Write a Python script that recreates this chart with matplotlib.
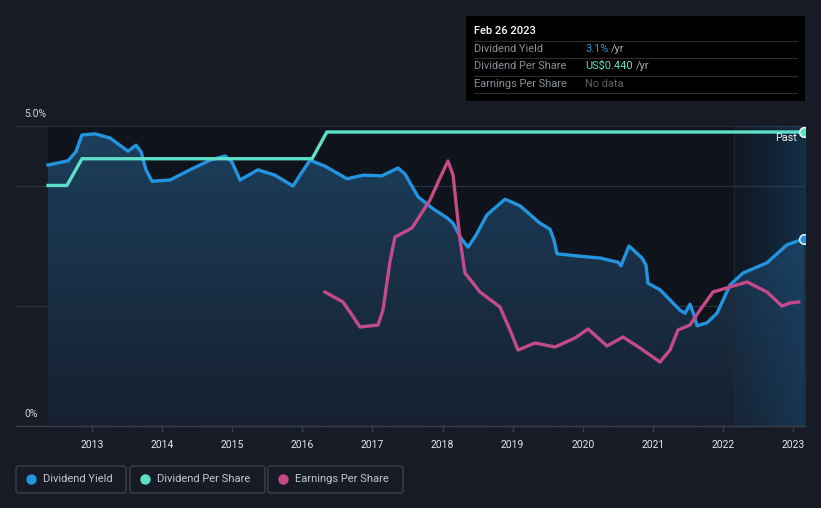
import numpy as np
import matplotlib
matplotlib.use("Agg")
import matplotlib.pyplot as plt
from matplotlib.patches import FancyBboxPatch, Rectangle
from matplotlib.colors import to_rgb

# ---------------- data ----------------
yield_t = [2012.372, 2012.658, 2012.77, 2012.857, 2013.043, 2013.257, 2013.514, 2013.628,
           2013.70, 2013.77, 2013.856, 2014.113, 2014.398, 2014.683, 2014.897, 2014.997,
           2015.111, 2015.368, 2015.611, 2015.867, 2015.967, 2016.11, 2016.324, 2016.638,
           2016.866, 2017.137, 2017.365, 2017.465, 2017.651, 2017.865, 2018.064, 2018.15,
           2018.264, 2018.364, 2018.478, 2018.635, 2018.892, 2019.106, 2019.391, 2019.534,
           2019.59, 2019.633, 2019.961, 2020.247, 2020.503, 2020.546, 2020.66, 2020.846,
           2020.903, 2020.931, 2021.103, 2021.388, 2021.46, 2021.531, 2021.588, 2021.631,
           2021.773, 2021.916, 2022.101, 2022.287, 2022.629, 2022.914, 2023.155]
yield_v = [4.35, 4.42, 4.57, 4.85, 4.87, 4.80, 4.58, 4.68,
           4.57, 4.27, 4.08, 4.10, 4.27, 4.43, 4.50, 4.40,
           4.10, 4.27, 4.18, 4.00, 4.18, 4.43, 4.33, 4.12,
           4.18, 4.17, 4.30, 4.20, 3.82, 3.62, 3.47, 3.38,
           3.13, 2.98, 3.18, 3.52, 3.78, 3.67, 3.38, 3.28,
           3.10, 2.87, 2.83, 2.80, 2.73, 2.67, 3.00, 2.80,
           2.68, 2.38, 2.27, 1.93, 1.88, 2.03, 1.85, 1.67,
           1.72, 1.88, 2.35, 2.55, 2.72, 3.02, 3.12]

dps_t = [2012.372, 2012.643, 2012.857, 2016.14, 2016.35, 2023.155]
dps_v = [0.36, 0.36, 0.40, 0.40, 0.44, 0.44]

eps_t = [2016.324, 2016.58, 2016.71, 2016.823, 2017.08, 2017.151, 2017.25, 2017.322,
         2017.565, 2017.822, 2017.964, 2018.078, 2018.15, 2018.25, 2018.321, 2018.535,
         2018.82, 2018.963, 2019.077, 2019.32, 2019.605, 2019.89, 2020.076, 2020.347,
         2020.575, 2020.817, 2021.103, 2021.245, 2021.359, 2021.531, 2021.673, 2021.859,
         2022.101, 2022.344, 2022.629, 2022.843, 2022.957, 2023.08]
eps_v = [0.67, 0.62, 0.555, 0.495, 0.505, 0.58, 0.82, 0.945,
         0.99, 1.13, 1.24, 1.325, 1.255, 0.93, 0.765, 0.67,
         0.595, 0.48, 0.38, 0.415, 0.395, 0.44, 0.485, 0.40,
         0.445, 0.39, 0.32, 0.38, 0.48, 0.505, 0.58, 0.67,
         0.695, 0.72, 0.67, 0.60, 0.615, 0.62]

years = list(range(2013, 2024))
year_labels = [str(y) for y in years]
forecast_start = 2022.155

# ---------------- style ----------------
BG = "#161b26"
PLOT_BG = "#0f131b"
BLUE = "#2394df"
CYAN = "#5ee0c8"
MAG = "#c44a8a"
GRID = "#2c323d"
AX = "#3a404a"
plt.rcParams['font.family'] = ['Roboto', 'DejaVu Sans']

W, H = 821, 508
fig = plt.figure(figsize=(W / 100, H / 100), dpi=100, facecolor=BG)

def fx(x):
    return x / W

def fy(y):
    return 1 - y / H

ax = fig.add_axes([fx(16), fy(426), fx(805) - fx(16), fy(126) - fy(426)])
ax.set_facecolor(BG)
XMIN, XMAX = 2011.916, 2023.171
YMAX = 5.0

# dark plot background
ax.axvspan(yield_t[0], XMAX, color=PLOT_BG, zorder=0, lw=0)

# gridlines
for g in [5.0, 4.0, 2.0]:
    ax.axhline(g, color=GRID, lw=0.9, zorder=0.5)

# gradient fill under the yield line
poly = ax.fill_between(yield_t, yield_v, 0, color='none', lw=0)
top_c = np.array(to_rgb("#1c3f5e"))
bot_c = np.array(to_rgb("#16202f"))
n = 256
fr = np.linspace(0, 1, n)[:, None]
grad = bot_c[None, :] * (1 - fr) + top_c[None, :] * fr
grad = np.repeat(grad[:, None, :], 2, axis=1)
img = ax.imshow(grad, extent=[yield_t[0], yield_t[-1], 0, YMAX], origin='lower',
                aspect='auto', zorder=1, interpolation='bilinear')
img.set_clip_path(poly.get_paths()[0], ax.transData)

# forecast overlay (horizontal gradient)
fc = np.array(to_rgb("#1a5585"))
m = 128
alpha = np.linspace(0.06, 0.42, m)
ov = np.zeros((2, m, 4))
ov[:, :, :3] = fc
ov[:, :, 3] = alpha[None, :]
ax.imshow(ov, extent=[forecast_start, XMAX, 0, YMAX], origin='lower', aspect='auto',
          zorder=1.5, interpolation='bilinear')
ax.axvline(forecast_start, color="#1e2a38", lw=0.9, zorder=1.6)

ax.plot(yield_t, yield_v, color=BLUE, lw=2.4, zorder=4, solid_joinstyle='round')
ax.plot([yield_t[-1]], [yield_v[-1]], 'o', ms=7, mfc=BLUE, mec='white', mew=1.0, zorder=6)

ax.set_xlim(XMIN, XMAX)
ax.set_ylim(0, YMAX)

# DPS axis
ax2 = ax.twinx()
ax2.set_ylim(0, 0.44 * 300 / 294)
ax2.plot(dps_t, dps_v, color=CYAN, lw=2.4, zorder=5, solid_joinstyle='round')
ax2.plot([dps_t[-1]], [dps_v[-1]], 'o', ms=7, mfc=CYAN, mec='white', mew=1.0, zorder=6)

# EPS axis
ax3 = ax.twinx()
ax3.set_ylim(0, 1.5)
ax3.plot(eps_t, eps_v, color=MAG, lw=2.4, zorder=5, solid_joinstyle='round')

for a in (ax2, ax3):
    a.set_xlim(XMIN, XMAX)
    a.set_yticks([])
    a.patch.set_visible(False)
    for s in a.spines.values():
        s.set_visible(False)

for s in ['top', 'right', 'left']:
    ax.spines[s].set_visible(False)
ax.spines['bottom'].set_color(AX)
ax.spines['bottom'].set_linewidth(1.0)
ax.set_yticks([])
ax.set_xticks(years)
ax.set_xticklabels(year_labels, color="#e6e6e6", fontsize=7.5,
                   fontfamily=['Liberation Sans Narrow', 'Roboto', 'DejaVu Sans'])
ax.tick_params(axis='x', length=4, color=AX, width=1, pad=6)

# y labels
fig.text(fx(24), fy(114), "5.0%", color="#d6d8dc", fontsize=7.5, va='center', ha='left')
fig.text(fx(24), fy(414), "0%", color="#d6d8dc", fontsize=7.5, va='center', ha='left')
fig.text(fx(797), fy(138), "Past", color="#f0f0f0", fontsize=7.8, va='center', ha='right')

# tooltip
fig.patches.append(Rectangle((fx(466), fy(101)), fx(805) - fx(466), fy(16) - fy(101),
                             transform=fig.transFigure, facecolor="#000000", edgecolor='none', zorder=10))
fig.text(fx(474), fy(31), "Feb 26 2023", color="white", fontsize=8, fontweight='medium',
         va='center', ha='left', zorder=11)
for yy in [41, 58, 76, 93]:
    fig.add_artist(plt.Line2D([fx(474), fx(797)], [fy(yy), fy(yy)], transform=fig.transFigure,
                              color="#2e2e2e", lw=0.8, zorder=11))
rows = [("Dividend Yield", "3.1%", BLUE, 49),
        ("Dividend Per Share", "US$0.440", CYAN, 66),
        ("Earnings Per Share", None, None, 84)]
for lab, val, col, yy in rows:
    fig.text(fx(474), fy(yy), lab, color="#8a8f98", fontsize=7.9, va='center', ha='left', zorder=11)
    if val is None:
        fig.text(fx(585), fy(yy), "No data", color="#5c6066", fontsize=7.9, va='center', ha='left', zorder=11)
    else:
        t = fig.text(fx(585), fy(yy), val, color=col, fontsize=7.9, va='center', ha='left', zorder=11)
        fig.canvas.draw()
        bb = t.get_window_extent()
        fig.text(bb.x1 / W + 3 / W, fy(yy), "/yr", color="#a8acb2", fontsize=7.9, va='center', ha='left', zorder=11)

# legend
leg = [("Dividend Yield", BLUE, 16, 126), ("Dividend Per Share", CYAN, 130, 265),
       ("Earnings Per Share", MAG, 268, 403)]
for lab, col, x0, x1 in leg:
    fig.patches.append(FancyBboxPatch((fx(x0), fy(493)), fx(x1) - fx(x0), fy(466) - fy(493),
                                      boxstyle="round,pad=0,rounding_size=0.004",
                                      transform=fig.transFigure, facecolor='none',
                                      edgecolor="#3b414c", lw=1.0))
    fig.add_artist(plt.Line2D([fx(x0 + 15)], [fy(479)], marker='o', ms=6.5, color=col,
                              transform=fig.transFigure, lw=0))
    fig.text(fx(x0 + 27), fy(479), lab, color="#c3c7ce", fontsize=8, va='center', ha='left')

fig.savefig("out.png", dpi=100, facecolor=BG)
